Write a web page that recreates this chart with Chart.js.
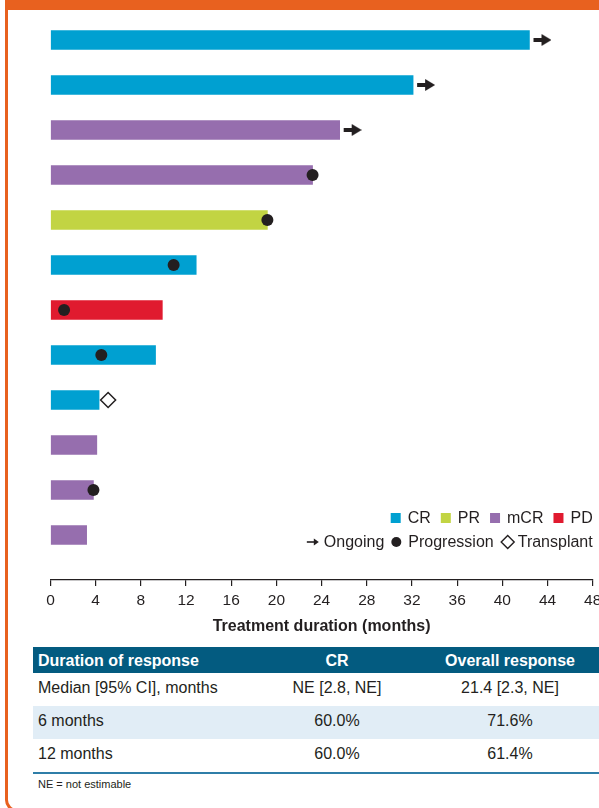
<!DOCTYPE html>
<html>
<head>
<meta charset="utf-8">
<script src="https://cdn.jsdelivr.net/npm/chart.js@4"></script>
<style>
  html, body { margin: 0; padding: 0; width: 599px; height: 808px; overflow: hidden; background: #fff; }
  body { position: relative; font-family: "Liberation Sans", Arial, sans-serif; color: #231F20; }
  .frame {
    position: absolute; left: 5px; top: -20px; width: 640px; height: 832px;
    box-sizing: border-box; border: 3px solid #E8611F; border-top-width: 30px;
    border-bottom-left-radius: 12px;
  }
  #chartBox { position: absolute; left: 0; top: 0; width: 620px; height: 640px; }
  table.dor {
    position: absolute; left: 33px; top: 647px; width: 572px;
    border-collapse: collapse; font-size: 16px; line-height: 19px;
    border-bottom: 2px solid #2F7EA8;
  }
  table.dor th { background: #035B80; color: #fff; font-weight: bold; padding: 3.5px 0; height: 19px; }
  table.dor td { padding: 5px 0 9px 0; height: 19px; }
  table.dor th:first-child, table.dor td:first-child { text-align: left; padding-left: 5px; width: 213px; }
  table.dor th:nth-child(2), table.dor td:nth-child(2) { text-align: center; width: 172px; }
  table.dor th:nth-child(3), table.dor td:nth-child(3) { text-align: center; padding-right: 8px; }
  table.dor tr.shade td { background: #E1EDF6; }
  .note { position: absolute; left: 38px; top: 777px; font-size: 11px; line-height: 14px; }
</style>
</head>
<body>
<div class="frame"></div>
<div id="chartBox"><canvas id="chart" width="620" height="640"></canvas></div>

<table class="dor">
  <thead><tr><th>Duration of response</th><th>CR</th><th>Overall response</th></tr></thead>
  <tbody>
    <tr><td>Median [95% CI], months</td><td>NE [2.8, NE]</td><td>21.4 [2.3, NE]</td></tr>
    <tr class="shade"><td>6 months</td><td>60.0%</td><td>71.6%</td></tr>
    <tr><td>12 months</td><td>60.0%</td><td>61.4%</td></tr>
  </tbody>
</table>
<div class="note">NE = not estimable</div>

<script>
// Treatment duration per patient (months), one bar per patient, top to bottom
const durations = [42.4, 32.1, 25.6, 23.2, 19.2, 12.9, 9.9, 9.3, 4.3, 4.1, 3.8, 3.2];
const responses = ['CR', 'CR', 'mCR', 'mCR', 'PR', 'CR', 'PD', 'CR', 'CR', 'mCR', 'mCR', 'mCR'];

// Events on the swimmer lanes (row index + month)
const ongoingRows = [0, 1, 2];
const progressionRows = [3, 4, 5, 6, 7, 10];
const progressionMonths = [23.2, 19.2, 10.9, 1.2, 4.5, 3.8];
const transplantRows = [8];
const transplantMonths = [5.1];

// Axis ticks
const xTickValues = [0, 4, 8, 12, 16, 20, 24, 28, 32, 36, 40, 44, 48];
const xTickLabels = ['0', '4', '8', '12', '16', '20', '24', '28', '32', '36', '40', '44', '48'];

// Legend entries
const responseLabels = ['CR', 'PR', 'mCR', 'PD'];
const eventLabels = ['Ongoing', 'Progression', 'Transplant'];

const INK = '#231F20';
const FONT = '"Liberation Sans", Arial, sans-serif';
const responseColors = { CR: '#00A0D1', PR: '#C2D443', mCR: '#966EAE', PD: '#E01A2F' };

// Arrow marker: drawn in the right half of the image so that it sits just after the bar end
function makeArrow() {
  const c = document.createElement('canvas');
  c.width = 44; c.height = 14;
  const g = c.getContext('2d');
  g.fillStyle = INK;
  g.fillRect(26, 5, 10, 4);
  g.beginPath();
  g.moveTo(34, 1);
  g.lineTo(44, 7);
  g.lineTo(34, 13);
  g.closePath();
  g.fill();
  return c;
}

const legendPlugin = {
  id: 'swimLegend',
  afterDraw(chart) {
    const { ctx, chartArea } = chart;
    const right = chartArea.right;
    ctx.save();
    ctx.font = '16px ' + FONT;
    ctx.textBaseline = 'middle';
    ctx.fillStyle = INK;

    // Row 1: response categories
    const y1 = chartArea.bottom - 62;
    const box = 10, gapIn = 7, gapOut = 10;
    let total = 0;
    responseLabels.forEach((l, i) => {
      total += box + gapIn + ctx.measureText(l).width + (i < responseLabels.length - 1 ? gapOut : 0);
    });
    let x = right - total;
    responseLabels.forEach((l) => {
      ctx.fillStyle = responseColors[l];
      ctx.fillRect(x, y1 - box / 2, box, box);
      x += box + gapIn;
      ctx.fillStyle = INK;
      ctx.fillText(l, x, y1 + 1);
      x += ctx.measureText(l).width + gapOut;
    });

    // Row 2: event markers
    const y2 = chartArea.bottom - 38;
    const marks = [12, 10, 14];
    const gapsIn = [5, 7, 3];
    const gapsOut = 7;
    total = 0;
    eventLabels.forEach((l, i) => {
      total += marks[i] + gapsIn[i] + ctx.measureText(l).width + (i < eventLabels.length - 1 ? gapsOut : 0);
    });
    x = right - total;
    eventLabels.forEach((l, i) => {
      ctx.fillStyle = INK;
      ctx.strokeStyle = INK;
      if (i === 0) {
        ctx.lineWidth = 1.6;
        ctx.beginPath();
        ctx.moveTo(x, y2); ctx.lineTo(x + 8, y2); ctx.stroke();
        ctx.beginPath();
        ctx.moveTo(x + 7, y2 - 3.5); ctx.lineTo(x + 12, y2); ctx.lineTo(x + 7, y2 + 3.5);
        ctx.closePath(); ctx.fill();
      } else if (i === 1) {
        ctx.beginPath();
        ctx.arc(x + 5, y2, 5, 0, Math.PI * 2);
        ctx.fill();
      } else {
        ctx.lineWidth = 1.4;
        ctx.beginPath();
        ctx.moveTo(x + 7, y2 - 6.5); ctx.lineTo(x + 13.5, y2);
        ctx.lineTo(x + 7, y2 + 6.5); ctx.lineTo(x + 0.5, y2);
        ctx.closePath(); ctx.stroke();
      }
      x += marks[i] + gapsIn[i];
      ctx.fillStyle = INK;
      ctx.fillText(l, x, y2 + 1);
      x += ctx.measureText(l).width + gapsOut;
    });
    ctx.restore();
  }
};

new Chart(document.getElementById('chart'), {
  type: 'bar',
  data: {
    datasets: [
      {
        type: 'scatter',
        data: ongoingRows.map(r => ({ x: durations[r], y: r })),
        pointStyle: makeArrow(),
        pointRadius: 10,
        order: 0
      },
      {
        type: 'scatter',
        data: progressionRows.map((r, i) => ({ x: progressionMonths[i], y: r })),
        pointStyle: 'circle',
        pointRadius: 6,
        backgroundColor: INK,
        borderWidth: 0,
        order: 0
      },
      {
        type: 'scatter',
        data: transplantRows.map((r, i) => ({ x: transplantMonths[i], y: r })),
        pointStyle: 'rectRot',
        pointRadius: 7.5,
        backgroundColor: '#ffffff',
        borderColor: INK,
        borderWidth: 1.5,
        order: 0
      },
      {
        type: 'bar',
        data: durations.map((d, i) => ({ x: d, y: i })),
        backgroundColor: responses.map(r => responseColors[r]),
        borderWidth: 0,
        barThickness: 19,
        order: 1
      }
    ]
  },
  options: {
    indexAxis: 'y',
    responsive: false,
    animation: false,
    devicePixelRatio: 1,
    layout: { padding: { left: 50.5, right: 27.3, top: 17.5, bottom: 0 } },
    plugins: { legend: { display: false }, tooltip: { enabled: false } },
    scales: {
      x: {
        type: 'linear',
        position: 'bottom',
        min: 0,
        max: 48,
        afterBuildTicks(scale) { scale.ticks = xTickValues.map(v => ({ value: v })); },
        afterFit(scale) { scale.height = 60; },
        grid: { drawOnChartArea: false, drawTicks: true, tickLength: 6, color: INK, lineWidth: 1.2 },
        border: { display: true, color: INK, width: 1.3 },
        ticks: {
          autoSkip: false, maxRotation: 0, padding: 5, color: INK,
          font: { family: FONT, size: 15.5 },
          callback: (v, i) => xTickLabels[i]
        },
        title: {
          display: true, text: 'Treatment duration (months)', color: INK,
          font: { family: FONT, size: 16, weight: 'bold' },
          padding: { top: 0, bottom: 4 }
        }
      },
      y: {
        type: 'linear', min: -0.5, max: 12, reverse: true, display: false,
        offset: false, grid: { offset: false }
      }
    }
  },
  plugins: [legendPlugin]
});
</script>
</body>
</html>
